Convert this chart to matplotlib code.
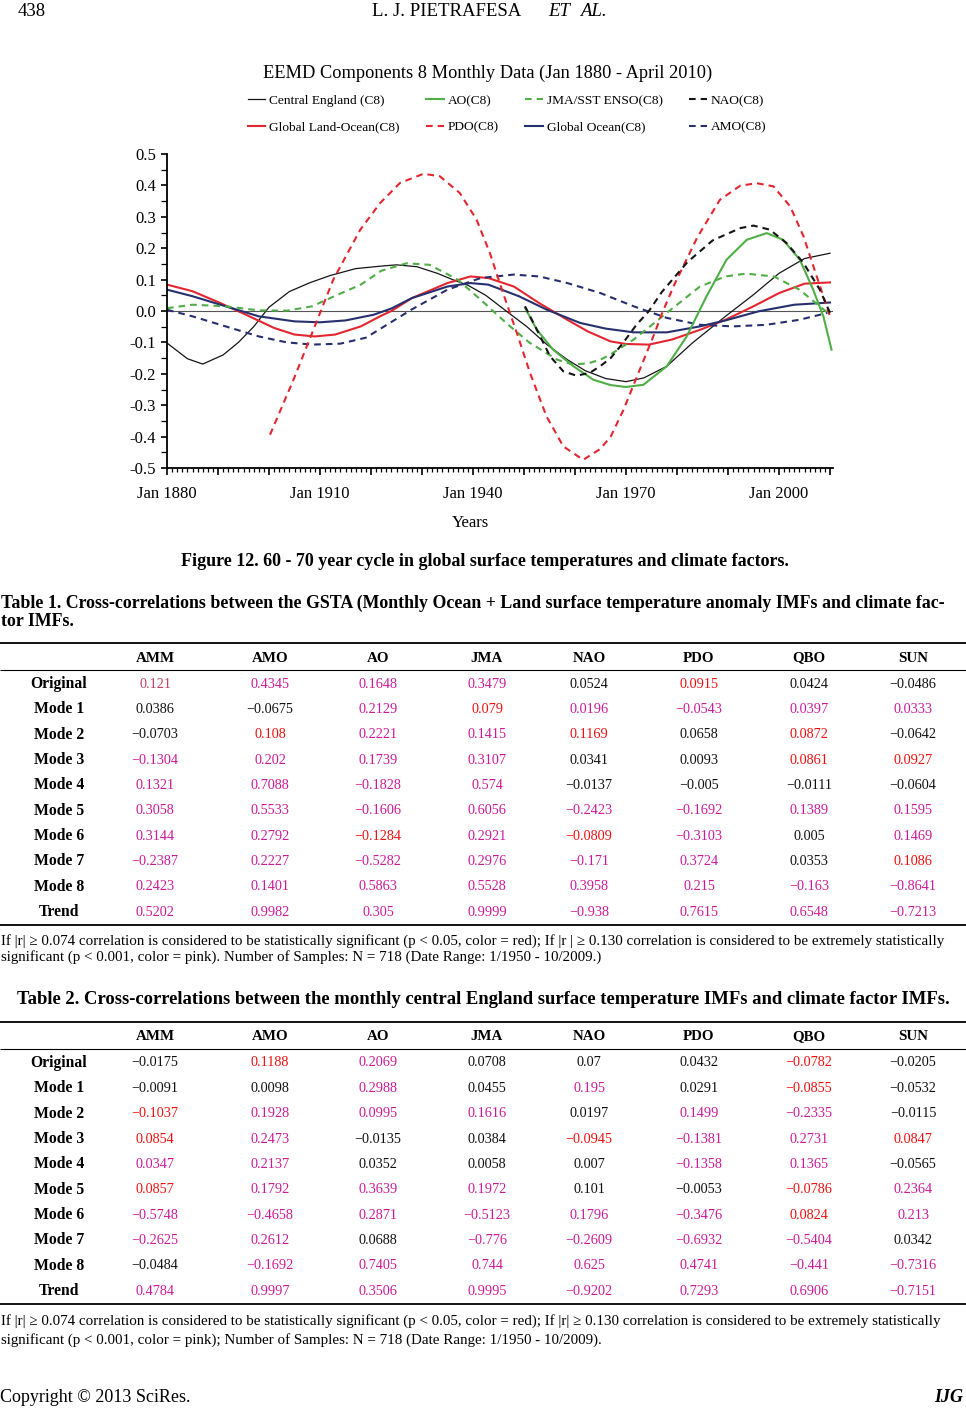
import matplotlib
matplotlib.use('Agg')
import matplotlib.pyplot as plt
from matplotlib.lines import Line2D
from matplotlib.ticker import MultipleLocator, FixedLocator, FuncFormatter

# ---------------- data ----------------
ce_years = [1880, 1884, 1887, 1891, 1894, 1897, 1900, 1904, 1908, 1912, 1917, 1922, 1925, 1929, 1933,
            1936, 1939, 1942.5, 1946.5, 1950.5, 1954.5, 1958.5, 1962, 1966, 1970, 1973.5, 1978, 1983,
            1989.5, 1995, 2000, 2005, 2010]
ce_vals = [-0.102, -0.152, -0.169, -0.140, -0.100, -0.050, 0.012, 0.062, 0.090, 0.113, 0.135, 0.143, 0.147,
           0.141, 0.120, 0.100, 0.082, 0.050, 0.000, -0.049, -0.107, -0.155, -0.190, -0.215, -0.225,
           -0.213, -0.176, -0.102, -0.017, 0.052, 0.120, 0.167, 0.184]

glo_years = [1880, 1885, 1890.5, 1895.5, 1901, 1905, 1909, 1913, 1918, 1922, 1924, 1928, 1935, 1939.5,
             1943, 1948, 1953, 1958.5, 1962.5, 1967, 1970, 1974.5, 1979, 1984.5, 1989.5, 1995, 2000,
             2005, 2010]
glo_vals = [0.084, 0.063, 0.025, -0.012, -0.054, -0.075, -0.081, -0.075, -0.049, -0.015, 0.000, 0.041,
            0.089, 0.110, 0.105, 0.078, 0.025, -0.028, -0.065, -0.097, -0.105, -0.107, -0.091, -0.060,
            -0.028, 0.015, 0.057, 0.087, 0.091]

go_years = [1880, 1885, 1891.5, 1898, 1905, 1910, 1915, 1920.5, 1924, 1928, 1935, 1939.5, 1943, 1949,
            1954.5, 1961, 1966, 1971.5, 1978, 1984.5, 1989.5, 1996, 2003, 2010]
go_vals = [0.068, 0.047, 0.015, -0.017, -0.033, -0.036, -0.030, -0.012, 0.008, 0.041, 0.078, 0.089,
           0.084, 0.047, 0.004, -0.038, -0.056, -0.068, -0.068, -0.049, -0.030, -0.001, 0.020, 0.027]

amo_years = [1880, 1885, 1891.5, 1898, 1903.5, 1908.5, 1914, 1919, 1922, 1924, 1928, 1935, 1941.5, 1948,
             1953, 1958.5, 1965, 1971.5, 1978, 1984.5, 1991, 1997.5, 2004, 2009.5]
amo_vals = [0.004, -0.017, -0.049, -0.081, -0.100, -0.107, -0.104, -0.085, -0.055, -0.035, 0.005, 0.068,
            0.105, 0.116, 0.110, 0.089, 0.057, 0.015, -0.022, -0.044, -0.049, -0.044, -0.028, -0.006]

jma_years = [1880, 1885, 1891.5, 1898, 1903.5, 1908.5, 1912.5, 1918, 1922, 1927, 1931.5, 1937, 1941.5,
             1946.5, 1951, 1956.5, 1959.5, 1962.5, 1965, 1967, 1971.5, 1978, 1984.5, 1989.5, 1993.5,
             1999, 2004, 2008, 2010]
jma_vals = [0.009, 0.020, 0.015, 0.002, 0.001, 0.015, 0.045, 0.084, 0.128, 0.152, 0.147, 0.100, 0.036,
            -0.038, -0.100, -0.155, -0.170, -0.167, -0.155, -0.138, -0.091, -0.006, 0.078, 0.110, 0.119,
            0.110, 0.068, 0.015, -0.012]

pdo_years = [1900.2, 1904.8, 1908.7, 1912.6, 1917.9, 1921.8, 1925.7, 1930.3, 1933.5, 1937.4, 1940.7,
             1943.3, 1945.9, 1948.6, 1951.2, 1954.4, 1957.7, 1961.6, 1964.9, 1967, 1969.5, 1972,
             1975.5, 1977, 1979.5, 1984, 1988.4, 1992.4, 1995.6, 1998.9, 2002.2, 2004.8, 2007.4, 2010]
pdo_vals = [-0.394, -0.219, -0.060, 0.100, 0.259, 0.344, 0.408, 0.437, 0.429, 0.376, 0.291, 0.185, 0.057,
            -0.070, -0.198, -0.335, -0.431, -0.474, -0.440, -0.400, -0.315, -0.215, -0.075, -0.010,
            0.085, 0.235, 0.354, 0.399, 0.407, 0.397, 0.333, 0.238, 0.110, -0.017]

ao_years = [1950.2, 1952.5, 1955.7, 1959.7, 1963.6, 1967, 1970, 1973.4, 1978, 1981.9, 1985.8, 1989.7,
            1993.7, 1997.6, 2000.8, 2004.1, 2006.7, 2008.7, 2010.3]
ao_vals = [0.010, -0.059, -0.123, -0.176, -0.219, -0.236, -0.242, -0.235, -0.176, -0.081, 0.047, 0.163,
           0.227, 0.248, 0.227, 0.163, 0.068, -0.017, -0.123]

nao_years = [1950.2, 1952.5, 1955.1, 1957.7, 1960.3, 1962.9, 1965, 1967, 1969.5, 1972, 1974.5, 1977,
             1982, 1987, 1992.4, 1995, 1998.2, 2001.5, 2004.8, 2008, 2010]
nao_vals = [0.015, -0.059, -0.144, -0.192, -0.206, -0.197, -0.175, -0.150, -0.100, -0.045, 0.000, 0.060,
            0.155, 0.225, 0.264, 0.272, 0.259, 0.216, 0.153, 0.068, -0.006]

x_tick_years = [1880, 1910, 1940, 1970, 2000]
x_tick_labels = ['Jan 1880', 'Jan 1910', 'Jan 1940', 'Jan 1970', 'Jan 2000']

table_cols = ['AMM', 'AMO', 'AO', 'JMA', 'NAO', 'PDO', 'QBO', 'SUN']
table_rows = ['Original', 'Mode 1', 'Mode 2', 'Mode 3', 'Mode 4', 'Mode 5', 'Mode 6', 'Mode 7', 'Mode 8', 'Trend']

t1_vals = [
    [0.121, 0.4345, 0.1648, 0.3479, 0.0524, 0.0915, 0.0424, -0.0486],
    [0.0386, -0.0675, 0.2129, 0.079, 0.0196, -0.0543, 0.0397, 0.0333],
    [-0.0703, 0.108, 0.2221, 0.1415, 0.1169, 0.0658, 0.0872, -0.0642],
    [-0.1304, 0.202, 0.1739, 0.3107, 0.0341, 0.0093, 0.0861, 0.0927],
    [0.1321, 0.7088, -0.1828, 0.574, -0.0137, -0.005, -0.0111, -0.0604],
    [0.3058, 0.5533, -0.1606, 0.6056, -0.2423, -0.1692, 0.1389, 0.1595],
    [0.3144, 0.2792, -0.1284, 0.2921, -0.0809, -0.3103, 0.005, 0.1469],
    [-0.2387, 0.2227, -0.5282, 0.2976, -0.171, 0.3724, 0.0353, 0.1086],
    [0.2423, 0.1401, 0.5863, 0.5528, 0.3958, 0.215, -0.163, -0.8641],
    [0.5202, 0.9982, 0.305, 0.9999, -0.938, 0.7615, 0.6548, -0.7213],
]
t1_cols = ['qpppkrkk', 'kkprpppp', 'krpprkrk', 'ppppkkrr', 'ppppkkkk',
           'pppppppp', 'pprprpkp', 'ppppppkr', 'pppppppp', 'pppppppp']

t2_vals = [
    [-0.0175, 0.1188, 0.2069, 0.0708, 0.07, 0.0432, -0.0782, -0.0205],
    [-0.0091, 0.0098, 0.2988, 0.0455, 0.195, 0.0291, -0.0855, -0.0532],
    [-0.1037, 0.1928, 0.0995, 0.1616, 0.0197, 0.1499, -0.2335, -0.0115],
    [0.0854, 0.2473, -0.0135, 0.0384, -0.0945, -0.1381, 0.2731, 0.0847],
    [0.0347, 0.2137, 0.0352, 0.0058, 0.007, -0.1358, 0.1365, -0.0565],
    [0.0857, 0.1792, 0.3639, 0.1972, 0.101, -0.0053, -0.0786, 0.2364],
    [-0.5748, -0.4658, 0.2871, -0.5123, 0.1796, -0.3476, 0.0824, 0.213],
    [-0.2625, 0.2612, 0.0688, -0.776, -0.2609, -0.6932, -0.5404, 0.0342],
    [-0.0484, -0.1692, 0.7405, 0.744, 0.625, 0.4741, -0.441, -0.7316],
    [0.4784, 0.9997, 0.3506, 0.9995, -0.9202, 0.7293, 0.6906, -0.7151],
]
t2_cols = ['krpkkkrk', 'kkpkpkrk', 'rpppkppk', 'rpkkrppr', 'ppkkkppk',
           'rpppkkrp', 'pppppprp', 'ppkppppk', 'kppppppp', 'pppppppp']

# ---------------- figure ----------------
W, H = 966, 1414
SERIF = ['Liberation Serif', 'DejaVu Serif']
plt.rcParams['font.family'] = SERIF
fig = plt.figure(figsize=(W / 100, H / 100), dpi=100)
renderer = fig.canvas.get_renderer()


def fx(x):
    return x / W


def fy(y):
    return 1 - y / H


def hline(x0, x1, y, lw):
    fig.add_artist(Line2D([fx(x0), fx(x1)], [fy(y), fy(y)], transform=fig.transFigure,
                          color='black', lw=lw, solid_capstyle='butt'))


def fit(t, target):
    bb = t.get_window_extent(renderer)
    size = t.get_fontsize() * target / bb.width
    t.set_fontsize(size)
    return size


# ---------------- chart ----------------
X0, X1 = 1880, 2010.6
ax = fig.add_axes([fx(167), fy(468), fx(167 + (X1 - X0) * 5.1) - fx(167), fy(154) - fy(468)])
ax.set_xlim(X0, X1)
ax.set_ylim(-0.5, 0.5)
for s in ['top', 'right']:
    ax.spines[s].set_visible(False)
for s in ['left', 'bottom']:
    ax.spines[s].set_linewidth(1.3)

ax.axhline(0, color='#555555', lw=0.8, zorder=1)

RED = '#e3262f'
GREEN = '#4fae45'
NAVY = '#27306e'
dash = (3.2, 2.4)
lw = 1.5
l_ce, = ax.plot(ce_years, ce_vals, color='#151515', lw=0.9, label='Central England (C8)')
l_glo, = ax.plot(glo_years, glo_vals, color=RED, lw=lw, label='Global Land-Ocean(C8)')
l_go, = ax.plot(go_years, go_vals, color=NAVY, lw=lw, label='Global Ocean(C8)')
l_amo, = ax.plot(amo_years, amo_vals, color=NAVY, lw=lw, ls=(0, dash), label='AMO(C8)')
l_jma, = ax.plot(jma_years, jma_vals, color=GREEN, lw=lw, ls=(0, dash), label='JMA/SST ENSO(C8)')
l_pdo, = ax.plot(pdo_years, pdo_vals, color=RED, lw=lw, ls=(0, dash), label='PDO(C8)')
l_ao, = ax.plot(ao_years, ao_vals, color=GREEN, lw=lw, label='AO(C8)')
l_nao, = ax.plot(nao_years, nao_vals, color='#151515', lw=lw, ls=(0, dash), label='NAO(C8)')

major_x = list(range(1880, 2011, 10))
ax.xaxis.set_major_locator(FixedLocator(major_x))
ax.xaxis.set_major_formatter(FuncFormatter(
    lambda v, p: x_tick_labels[x_tick_years.index(int(round(v)))] if int(round(v)) in x_tick_years else ''))
ax.xaxis.set_minor_locator(MultipleLocator(1))
ax.yaxis.set_major_locator(MultipleLocator(0.1))
ax.yaxis.set_minor_locator(MultipleLocator(0.05))
ax.yaxis.set_major_formatter(FuncFormatter(lambda v, p: '0.0' if abs(v) < 1e-9 else f'{v:.1f}'))
ax.tick_params(axis='x', which='major', length=5, width=1.2, labelsize=12, pad=8)
ax.tick_params(axis='x', which='minor', length=3, width=0.9)
ax.tick_params(axis='y', which='major', length=4, width=1.2, labelsize=12, pad=4)
ax.tick_params(axis='y', which='minor', length=4, width=0.9)

t = fig.text(fx(488), fy(73), 'EEMD Components 8 Monthly Data (Jan 1880 - April 2010)',
             ha='center', va='center', fontsize=12.5)
fit(t, 449)
fig.text(fx(470), fy(523), 'Years', ha='center', va='center', fontsize=12)

fig.legend([l_ce, l_glo, l_ao, l_pdo, l_jma, l_go, l_nao, l_amo],
           [h.get_label() for h in [l_ce, l_glo, l_ao, l_pdo, l_jma, l_go, l_nao, l_amo]],
           ncol=4, loc='center', bbox_to_anchor=(fx(507), fy(114)), frameon=False, fontsize=9.6,
           handlelength=1.3, handletextpad=0.3, columnspacing=2.0, labelspacing=1.05)

# ---------------- page text ----------------
fig.text(fx(18), fy(12), '438', ha='left', va='center', fontsize=13.5)
fig.text(fx(372), fy(12), 'L. J. PIETRAFESA', ha='left', va='center', fontsize=13.5)
fig.text(fx(548), fy(12), 'ET', ha='left', va='center', fontsize=13.5, style='italic')
fig.text(fx(580), fy(12), 'AL.', ha='left', va='center', fontsize=13.5, style='italic')

t = fig.text(fx(485), fy(561), 'Figure 12. 60 - 70 year cycle in global surface temperatures and climate factors.',
             ha='center', va='center', fontsize=12, weight='bold')
fit(t, 605)
t = fig.text(fx(1), fy(603), 'Table 1. Cross-correlations between the GSTA (Monthly Ocean + Land surface '
             'temperature anomaly IMFs and climate fac-', ha='left', va='center', fontsize=12, weight='bold')
cap = fit(t, 935)
fig.text(fx(1), fy(622), 'tor IMFs.', ha='left', va='center', fontsize=cap, weight='bold')
t = fig.text(fx(483), fy(1000), 'Table 2. Cross-correlations between the monthly central England surface '
             'temperature IMFs and climate factor IMFs.', ha='center', va='center', fontsize=12, weight='bold')
fit(t, 925)

COLMAP = {'k': '#111111', 'p': '#cc1a99', 'r': '#f01010', 'q': '#c8405e'}
col_x = [155, 270, 378, 487, 589, 699, 809, 913]
row_step = 25.35


def draw_table(top, vals, cols):
    hline(0, W, top, 1.3)
    hy = top + 15
    for cx, name in zip(col_x, table_cols):
        fig.text(fx(cx), fy(hy), name, ha='center', va='center', fontsize=10.8, weight='bold')
    hline(0, W, top + 27, 0.8)
    for i, rname in enumerate(table_rows):
        ry = top + 41 + i * row_step
        fig.text(fx(59), fy(ry), rname, ha='center', va='center', fontsize=11.3, weight='bold')
        for j, cx in enumerate(col_x):
            s = repr(vals[i][j]).replace('-', '\u2212')
            fig.text(fx(cx), fy(ry), s, ha='center', va='center', fontsize=10.3,
                     color=COLMAP[cols[i][j]])
    hline(0, W, top + 282, 1.3)


draw_table(643, t1_vals, t1_cols)
draw_table(1022, t2_vals, t2_cols)

t = fig.text(fx(1), fy(941), 'If |r| \u2265 0.074 correlation is considered to be statistically significant '
             '(p < 0.05, color = red); If |r | \u2265 0.130 correlation is considered to be extremely statistically',
             ha='left', va='center', fontsize=10)
fs = fit(t, 940)
fig.text(fx(1), fy(957), 'significant (p < 0.001, color = pink). Number of Samples: N = 718 '
         '(Date Range: 1/1950 - 10/2009.)', ha='left', va='center', fontsize=fs)
t = fig.text(fx(1), fy(1321), 'If |r| \u2265 0.074 correlation is considered to be statistically significant '
             '(p < 0.05, color = red); If |r| \u2265 0.130 correlation is considered to be extremely statistically',
             ha='left', va='center', fontsize=10)
fs2 = fit(t, 940)
fig.text(fx(1), fy(1340), 'significant (p < 0.001, color = pink); Number of Samples: N = 718 '
         '(Date Range: 1/1950 - 10/2009).', ha='left', va='center', fontsize=fs2)

fig.text(fx(0), fy(1397), 'Copyright \u00a9 2013 SciRes.', ha='left', va='center', fontsize=13)
fig.text(fx(963), fy(1397), 'IJG', ha='right', va='center', fontsize=13, weight='bold', style='italic')

fig.savefig('out.png', dpi=100)
